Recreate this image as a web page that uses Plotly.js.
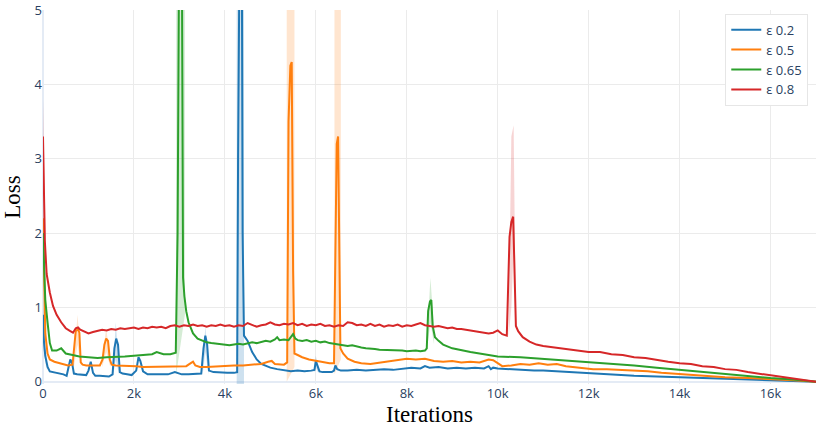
<!DOCTYPE html>
<html>
<head>
<meta charset="utf-8">
<script src="https://cdn.plot.ly/plotly-3.0.1.min.js"></script>
<style>
  html, body { margin: 0; padding: 0; background: #fff; }
  #chart { width: 831px; height: 427px; }
</style>
</head>
<body>
<div id="chart"></div>
<script>
// ---- data ----
var seriesNames = ['ε 0.2', 'ε 0.5', 'ε 0.65', 'ε 0.8'];
var seriesColors = ['#1f77b4', '#ff7f0e', '#2ca02c', '#d62728'];
var bandColors = ['rgba(31,119,180,0.22)', 'rgba(255,127,14,0.2)', 'rgba(44,160,44,0.2)', 'rgba(214,39,40,0.2)'];

var xTickVals = [0, 2000, 4000, 6000, 8000, 10000, 12000, 14000, 16000];
var xTickText = ['0', '2k', '4k', '6k', '8k', '10k', '12k', '14k', '16k'];
var yTickVals = [0, 1, 2, 3, 4, 5];

// eps 0.2
var blueX = [0, 20, 50, 100, 150, 250, 350, 450, 520, 560, 600, 640, 680, 750, 850, 950, 1000, 1050, 1100, 1150,
  1250, 1350, 1450, 1530, 1570, 1610, 1650, 1690, 1750, 1850, 1950, 2050, 2100, 2140, 2200, 2300, 2450, 2600, 2750,
  2900, 2950, 3050, 3200, 3350, 3480, 3530, 3570, 3610, 3650, 3750, 3900, 4050, 4200, 4270, 4290, 4330, 4370, 4390,
  4420, 4500, 4600, 4700, 4800, 4900, 5000, 5150, 5300, 5450, 5600, 5750, 5900, 5970, 6000, 6040, 6080, 6150, 6250,
  6350, 6400, 6430, 6470, 6550, 6700, 6900, 7100, 7300, 7500, 7700, 7900, 8100, 8300, 8400, 8500, 8700, 8900, 9100,
  9300, 9500, 9700, 9800, 9850, 9900, 10000, 10200, 10400, 10600, 10800, 11000, 11500, 12000, 12500, 13000, 13500,
  14000, 14500, 15000, 15500, 16000, 16500, 17000];
var blueY = [0.9, 0.55, 0.35, 0.2, 0.14, 0.13, 0.12, 0.1, 0.08, 0.2, 0.3, 0.25, 0.11, 0.1, 0.1, 0.09, 0.15, 0.27, 0.12, 0.08,
  0.08, 0.07, 0.07, 0.1, 0.45, 0.58, 0.5, 0.13, 0.11, 0.1, 0.09, 0.15, 0.33, 0.28, 0.14, 0.1, 0.1, 0.09, 0.1,
  0.13, 0.12, 0.1, 0.1, 0.1, 0.11, 0.45, 0.62, 0.5, 0.15, 0.13, 0.12, 0.12, 0.12, 0.13, 3.0, 6.5, 6.5, 2.0,
  0.62, 0.55, 0.4, 0.3, 0.24, 0.21, 0.19, 0.17, 0.15, 0.14, 0.15, 0.14, 0.15, 0.16, 0.28, 0.2, 0.14, 0.13, 0.13,
  0.13, 0.15, 0.22, 0.17, 0.15, 0.15, 0.16, 0.15, 0.16, 0.17, 0.16, 0.18, 0.19, 0.18, 0.21, 0.19, 0.2, 0.18, 0.19,
  0.18, 0.19, 0.18, 0.21, 0.17, 0.19, 0.18, 0.17, 0.17, 0.16, 0.15, 0.15, 0.13, 0.11, 0.1, 0.08, 0.07,
  0.06, 0.05, 0.04, 0.03, 0.02, 0.01, 0.0];

// eps 0.5
var orangeX = [0, 20, 50, 100, 150, 250, 400, 550, 650, 690, 720, 770, 800, 830, 870, 950, 1050, 1150, 1250, 1310,
  1350, 1390, 1430, 1470, 1510, 1600, 1750, 1900, 2050, 2200, 2400, 2600, 2800, 3000, 3150, 3250, 3300, 3350, 3450,
  3600, 3800, 4000, 4200, 4400, 4600, 4800, 4950, 5030, 5100, 5200, 5300, 5370, 5400, 5440, 5470, 5500, 5530, 5600,
  5700, 5850, 6000, 6150, 6300, 6400, 6420, 6460, 6490, 6510, 6540, 6600, 6700, 6850, 7000, 7200, 7400, 7600, 7800,
  8000, 8200, 8400, 8600, 8800, 9000, 9200, 9400, 9600, 9800, 9900, 10000, 10100, 10300, 10500, 10700, 10900, 11100,
  11300, 11500, 11700, 11900, 12100, 12400, 12700, 13000, 13300, 13600, 14000, 14500, 15000, 15500, 16000, 16500, 17000];
var orangeY = [2.2, 1.3, 0.65, 0.38, 0.3, 0.27, 0.24, 0.22, 0.23, 0.5, 0.68, 0.71, 0.66, 0.26, 0.23, 0.22, 0.22, 0.21, 0.22, 0.3,
  0.5, 0.58, 0.55, 0.3, 0.23, 0.22, 0.22, 0.21, 0.21, 0.2, 0.2, 0.2, 0.21, 0.2, 0.21, 0.25, 0.27, 0.22, 0.2,
  0.2, 0.21, 0.21, 0.22, 0.22, 0.23, 0.24, 0.27, 0.28, 0.24, 0.23, 0.23, 0.26, 3.5, 4.25, 4.3, 1.5, 0.38, 0.36,
  0.33, 0.3, 0.28, 0.26, 0.25, 0.25, 1.5, 3.2, 3.3, 2.0, 0.45, 0.38, 0.31, 0.27, 0.25, 0.24, 0.26, 0.28, 0.29,
  0.31, 0.3, 0.31, 0.28, 0.27, 0.28, 0.26, 0.27, 0.26, 0.3, 0.29, 0.25, 0.21, 0.22, 0.24, 0.23, 0.25, 0.23,
  0.24, 0.21, 0.2, 0.19, 0.17, 0.17, 0.16, 0.15, 0.14, 0.12, 0.1, 0.08, 0.06, 0.05, 0.04, 0.02, 0.0];

// eps 0.65
var greenX = [0, 20, 50, 100, 150, 200, 300, 400, 500, 650, 800, 1000, 1200, 1400, 1600, 1800, 2000, 2200, 2400, 2500,
  2550, 2650, 2800, 2920, 2960, 3000, 3050, 3080, 3110, 3150, 3200, 3300, 3400, 3500, 3600, 3700, 3800, 3900, 4000,
  4100, 4200, 4300, 4400, 4500, 4600, 4700, 4800, 4900, 5000, 5100, 5150, 5200, 5300, 5400, 5450, 5500, 5550, 5600,
  5700, 5800, 5900, 6000, 6100, 6200, 6300, 6400, 6500, 6600, 6700, 6800, 6900, 7000, 7100, 7200, 7300, 7400, 7500,
  7600, 7700, 7800, 7900, 8000, 8100, 8200, 8300, 8400, 8440, 8470, 8510, 8540, 8570, 8620, 8700, 8800, 9000, 9200,
  9400, 9600, 9800, 10000, 10500, 11000, 11500, 12000, 12500, 13000, 13500, 14000, 14500, 15000, 15500, 16000, 16500, 17000];
var greenY = [2.0, 1.6, 1.1, 0.8, 0.52, 0.42, 0.42, 0.45, 0.38, 0.36, 0.34, 0.33, 0.32, 0.33, 0.33, 0.34, 0.35, 0.36, 0.37, 0.4,
  0.39, 0.37, 0.37, 0.39, 2.0, 6.5, 6.5, 1.4, 1.15, 0.95, 0.8, 0.65, 0.58, 0.55, 0.53, 0.52, 0.51, 0.51, 0.5,
  0.49, 0.5, 0.51, 0.5, 0.52, 0.53, 0.52, 0.54, 0.55, 0.54, 0.57, 0.6, 0.56, 0.57, 0.56, 0.6, 0.64, 0.58, 0.56,
  0.55, 0.56, 0.54, 0.55, 0.53, 0.54, 0.52, 0.51, 0.5, 0.5, 0.48, 0.49, 0.47, 0.46, 0.45, 0.45, 0.44, 0.43, 0.43,
  0.42, 0.43, 0.42, 0.42, 0.41, 0.42, 0.42, 0.41, 0.42, 0.45, 0.95, 1.08, 1.1, 0.75, 0.6, 0.55, 0.5, 0.45, 0.42,
  0.4, 0.38, 0.36, 0.34, 0.33, 0.31, 0.29, 0.27, 0.25, 0.22, 0.19, 0.16, 0.13, 0.1, 0.08, 0.05, 0.03, 0.0];

// eps 0.8
var redX = [0, 15, 40, 80, 150, 220, 300, 400, 500, 600, 660, 720, 770, 820, 900,
  1000, 1100, 1200, 1300, 1400, 1500, 1600, 1700, 1800, 1900, 2000, 2100, 2200, 2300, 2400, 2500, 2600, 2700, 2800, 2900,
  3000, 3100, 3200, 3300, 3400, 3500, 3600, 3700, 3800, 3900, 4000, 4100, 4200, 4300, 4400, 4500, 4600, 4700, 4800, 4900,
  5000, 5100, 5200, 5300, 5400, 5500, 5600, 5700, 5800, 5900, 6000, 6100, 6200, 6300, 6400, 6500, 6600, 6700, 6800, 6900,
  7000, 7100, 7200, 7300, 7400, 7500, 7600, 7700, 7800, 7900, 8000, 8100, 8200, 8300, 8400, 8500, 8600, 8700, 8800, 8900,
  9000, 9100, 9200, 9300, 9400, 9500, 9600, 9700, 9800, 9900, 10000, 10100, 10200,
  10260, 10300, 10340, 10370, 10400, 10450, 10550, 10700, 10850, 11000, 11250, 11500, 11750, 12000, 12250, 12500, 12750,
  13000, 13250, 13500, 13750, 14000, 14250, 14500, 14750, 15000, 15250, 15500, 15750, 16000, 16250, 16500, 16750, 17000];
var redY = [3.3, 2.7, 1.9, 1.45, 1.2, 1.02, 0.9, 0.8, 0.72, 0.68, 0.66, 0.72, 0.73, 0.7, 0.68,
  0.65, 0.67, 0.68, 0.7, 0.69, 0.71, 0.7, 0.72, 0.71, 0.72, 0.73, 0.71, 0.73, 0.72, 0.74, 0.73, 0.74, 0.72, 0.75, 0.76,
  0.74, 0.76, 0.75, 0.77, 0.75, 0.76, 0.74, 0.76, 0.75, 0.77, 0.75, 0.76, 0.74, 0.76, 0.75, 0.79, 0.76, 0.74, 0.76, 0.77,
  0.8, 0.77, 0.76, 0.78, 0.77, 0.79, 0.76, 0.78, 0.75, 0.77, 0.76, 0.78, 0.75, 0.76, 0.74, 0.76, 0.75, 0.8, 0.79, 0.76,
  0.77, 0.75, 0.78, 0.75, 0.77, 0.74, 0.76, 0.75, 0.77, 0.74, 0.76, 0.75, 0.77, 0.79, 0.76, 0.75, 0.74, 0.75, 0.73, 0.72,
  0.73, 0.71, 0.71, 0.7, 0.69, 0.69, 0.67, 0.67, 0.65, 0.66, 0.69, 0.64, 0.62,
  1.95, 2.15, 2.22, 1.5, 0.75, 0.68, 0.6, 0.54, 0.5, 0.48, 0.46, 0.44, 0.43, 0.4, 0.4, 0.37, 0.36,
  0.33, 0.32, 0.3, 0.27, 0.25, 0.24, 0.21, 0.2, 0.17, 0.16, 0.13, 0.11, 0.09, 0.07, 0.05, 0.03, 0.0];

// shaded spread around the spikes (null separates bands)
var blueBandX  = [0, 30, 80, null, 1540, 1600, 1670, null, 3510, 3570, 3640, null, 4260, 4420, null, 5960, 6000, 6050];
var blueBandHi = [1.1, 0.8, 0.3, null, 0.15, 0.8, 0.2, null, 0.15, 0.75, 0.2, null, 6, 6, null, 0.18, 0.35, 0.2];
var blueBandLo = [0.5, 0.35, 0.15, null, 0.08, 0.3, 0.1, null, 0.09, 0.4, 0.1, null, -0.1, -0.1, null, 0.12, 0.2, 0.12];

var orangeBandX  = [0, 30, 80, null, 680, 760, 830, null, 1300, 1390, 1480, null, 5360, 5530, null, 6410, 6550];
var orangeBandHi = [2.4, 1.5, 0.5, null, 0.3, 0.9, 0.3, null, 0.3, 0.72, 0.3, null, 6, 6, null, 6, 6];
var orangeBandLo = [1.9, 1.0, 0.3, null, 0.2, 0.5, 0.2, null, 0.2, 0.4, 0.2, null, 0, 0.2, null, 0.1, 0.3];

var greenBandX  = [0, 30, 80, null, 2930, 3120, null, 8440, 8520, 8600];
var greenBandHi = [2.2, 1.8, 0.95, null, 6, 6, null, 0.5, 1.4, 0.7];
var greenBandLo = [1.8, 1.3, 0.65, null, 0.1, 0.9, null, 0.4, 0.8, 0.5];

var redBandX  = [0, 30, 80, null, 10240, 10300, 10350, 10400];
var redBandHi = [3.8, 3.0, 1.6, null, 0.7, 3.3, 3.45, 0.8];
var redBandLo = [2.8, 2.3, 1.3, null, 0.6, 1.0, 1.8, 0.65];

// ---- build traces ----
function bandPolygon(bx, hi, lo) {
  var px = [], py = [];
  var seg = [];
  function flush() {
    if (!seg.length) return;
    for (var i = 0; i < seg.length; i++) { px.push(bx[seg[i]]); py.push(hi[seg[i]]); }
    for (var j = seg.length - 1; j >= 0; j--) { px.push(bx[seg[j]]); py.push(lo[seg[j]]); }
    px.push(null); py.push(null);
    seg = [];
  }
  for (var k = 0; k < bx.length; k++) {
    if (bx[k] === null) flush(); else seg.push(k);
  }
  flush();
  return {x: px, y: py};
}

var lineX = [blueX, orangeX, greenX, redX];
var lineY = [blueY, orangeY, greenY, redY];
var bands = [
  bandPolygon(blueBandX, blueBandHi, blueBandLo),
  bandPolygon(orangeBandX, orangeBandHi, orangeBandLo),
  bandPolygon(greenBandX, greenBandHi, greenBandLo),
  bandPolygon(redBandX, redBandHi, redBandLo)
];

var data = [];
for (var b = 0; b < bands.length; b++) {
  data.push({
    x: bands[b].x, y: bands[b].y,
    type: 'scatter', mode: 'lines',
    fill: 'toself', fillcolor: bandColors[b],
    line: {width: 0, color: bandColors[b]},
    connectgaps: false,
    showlegend: false, hoverinfo: 'skip'
  });
}
for (var s = 0; s < lineX.length; s++) {
  data.push({
    x: lineX[s], y: lineY[s],
    type: 'scatter', mode: 'lines',
    name: seriesNames[s],
    line: {color: seriesColors[s], width: 2}
  });
}

var layout = {
  width: 831, height: 427,
  margin: {l: 43, r: 15, t: 10, b: 43},
  paper_bgcolor: '#fff', plot_bgcolor: '#fff',
  font: {family: '"Open Sans", verdana, arial, sans-serif', size: 13, color: '#2a3f5f'},
  showlegend: true,
  legend: {
    x: 0.99, xanchor: 'right', y: 0.99, yanchor: 'top',
    bgcolor: '#fff', bordercolor: '#e6e6e6', borderwidth: 1,
    font: {size: 13, color: '#2a3f5f'}
  },
  xaxis: {
    range: [0, 17000],
    tickvals: xTickVals, ticktext: xTickText,
    showgrid: true, gridcolor: '#ebebeb',
    zeroline: true, zerolinecolor: '#e4ebf5', zerolinewidth: 2,
    showline: false, ticks: '',
    title: {text: 'Iterations', font: {family: '"Liberation Serif", serif', size: 23, color: '#000'}, standoff: 8}
  },
  yaxis: {
    range: [-0.03, 5],
    tickvals: yTickVals,
    showgrid: true, gridcolor: '#ebebeb',
    zeroline: true, zerolinecolor: '#e4ebf5', zerolinewidth: 2,
    showline: false, ticks: '',
    title: {text: 'Loss', font: {family: '"Liberation Serif", serif', size: 23, color: '#000'}, standoff: 8}
  }
};

Plotly.newPlot('chart', data, layout, {displayModeBar: false, staticPlot: true});
</script>
</body>
</html>
